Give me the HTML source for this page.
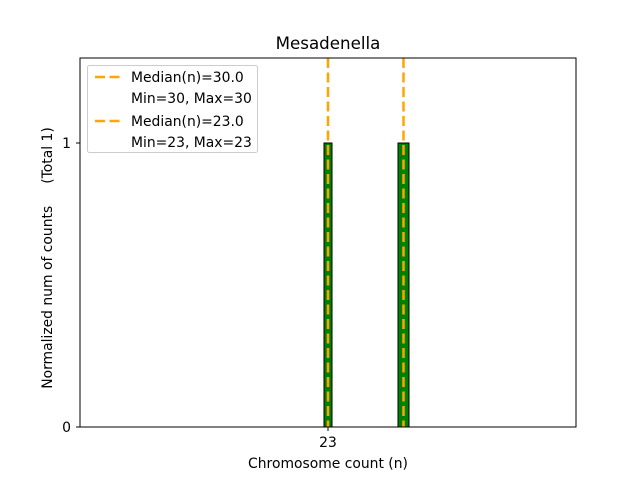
<!DOCTYPE html><html><head><style>body{margin:0;background:#fff}</style></head><body>
<svg width="640" height="480" xmlns="http://www.w3.org/2000/svg" font-family="DejaVu Sans, Liberation Sans, sans-serif">
<rect width="640" height="480" fill="#fff"/>
<text x="328" y="49" font-size="16.7" text-anchor="middle">Mesadenella</text>
<rect x="324" y="143" width="8" height="284" fill="#008000" stroke="#000" stroke-width="1"/>
<rect x="398" y="143" width="11" height="284" fill="#008000" stroke="#000" stroke-width="1"/>
<line x1="328" y1="58" x2="328" y2="427" stroke="#ffa500" stroke-width="2.5" stroke-dasharray="10,4.5"/>
<line x1="403.5" y1="58" x2="403.5" y2="427" stroke="#ffa500" stroke-width="2.5" stroke-dasharray="10,4.5"/>
<rect x="80" y="58" width="496" height="369" fill="none" stroke="#000" stroke-width="1"/>
<line x1="76" y1="427" x2="80" y2="427" stroke="#000"/>
<line x1="76" y1="143" x2="80" y2="143" stroke="#000"/>
<line x1="328" y1="427" x2="328" y2="431" stroke="#000"/>
<text x="71" y="432" font-size="13.9" text-anchor="end">0</text>
<text x="71" y="148" font-size="13.9" text-anchor="end">1</text>
<text x="328" y="447" font-size="13.9" text-anchor="middle">23</text>
<text x="328" y="468" font-size="13.9" text-anchor="middle">Chromosome count (n)</text>
<text transform="translate(52,258) rotate(-90)" font-size="13.9" text-anchor="middle" xml:space="preserve">Normalized num of counts     (Total 1)</text>
<rect x="87.5" y="65.5" width="170" height="87" rx="2" fill="#fff" fill-opacity="0.8" stroke="#ccc"/>
<line x1="95" y1="77" x2="122" y2="77" stroke="#ffa500" stroke-width="2.5" stroke-dasharray="10,4.5"/>
<text x="131" y="82" font-size="13.9">Median(n)=30.0</text>
<text x="131" y="103" font-size="13.9">Min=30, Max=30</text>
<line x1="95" y1="121" x2="122" y2="121" stroke="#ffa500" stroke-width="2.5" stroke-dasharray="10,4.5"/>
<text x="131" y="126" font-size="13.9">Median(n)=23.0</text>
<text x="131" y="147" font-size="13.9">Min=23, Max=23</text>
</svg></body></html>
